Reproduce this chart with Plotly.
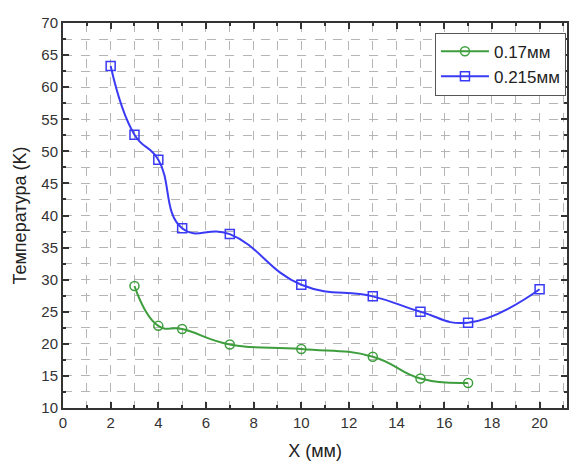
import plotly.graph_objects as go

# Measurements: temperature vs. position for two thicknesses
x_017 = [3, 4, 5, 7, 10, 13, 15, 17]
t_017 = [29.0, 22.8, 22.3, 19.9, 19.2, 18.0, 14.6, 13.9]

x_0215 = [2, 3, 4, 5, 7, 10, 13, 15, 17, 20]
t_0215 = [63.3, 52.6, 48.7, 38.0, 37.1, 29.2, 27.4, 25.0, 23.3, 28.5]

x_ticks = list(range(0, 21, 2))
y_ticks = list(range(10, 71, 5))

font = "Liberation Sans, Arial, sans-serif"

fig = go.Figure()
fig.add_trace(go.Scatter(
    x=x_017, y=t_017, name="0.17мм", mode="lines+markers",
    line=dict(color="#3e9e3e", width=2, shape="spline", smoothing=1.3),
    marker=dict(symbol="circle-open", size=9, color="#3e9e3e", line=dict(width=1.5)),
))
fig.add_trace(go.Scatter(
    x=x_0215, y=t_0215, name="0.215мм", mode="lines+markers",
    line=dict(color="#3a3af5", width=2, shape="spline", smoothing=1.3),
    marker=dict(symbol="square-open", size=9, color="#3a3af5", line=dict(width=1.5)),
))

axis_common = dict(
    showline=True, linecolor="#333333", linewidth=2, mirror="allticks",
    ticks="inside", ticklen=6, tickwidth=1.5, tickcolor="#333333",
    showgrid=True, gridcolor="#b5b5b5", griddash="dash", gridwidth=1,
    zeroline=False, automargin=False,
    tickfont=dict(family=font, size=15, color="#333333"),
    minor=dict(ticks="inside", ticklen=3, tickcolor="#333333", tickwidth=1.5,
               showgrid=True, gridcolor="#b5b5b5", griddash="dash", gridwidth=1),
)

fig.update_xaxes(
    range=[0, 21.15], tickvals=x_ticks, minor_dtick=1,
    title=dict(text="X (мм)", font=dict(family=font, size=18, color="#222222"), standoff=14),
    **axis_common,
)
fig.update_yaxes(
    range=[10, 70], tickvals=y_ticks, minor_dtick=2.5,
    title=dict(text="Температура (K)", font=dict(family=font, size=18, color="#222222"), standoff=10),
    **axis_common,
)

fig.update_layout(
    width=586, height=462,
    margin=dict(l=63, r=19, t=23, b=54),
    paper_bgcolor="white", plot_bgcolor="white",
    legend=dict(
        x=0.738, y=0.975, xanchor="left", yanchor="top",
        bordercolor="#555555", borderwidth=1, bgcolor="white",
        font=dict(family=font, size=17, color="#222222"),
        tracegroupgap=0, itemwidth=48,
    ),
    showlegend=True,
)

fig.write_html("out.html")
